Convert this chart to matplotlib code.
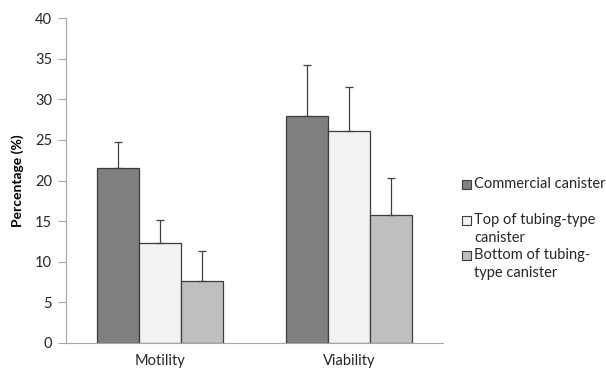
import numpy as np
import matplotlib
matplotlib.use("Agg")
import matplotlib.pyplot as plt
from matplotlib.patches import Rectangle

plt.rcParams['font.family'] = ['Lato', 'DejaVu Sans']

groups = ["Motility", "Viability"]
series = [["Commercial canister"], ["Top of tubing-type", "canister"], ["Bottom of tubing-", "type canister"]]
means = [[21.5, 28.0], [12.3, 26.1], [7.6, 15.7]]
errs = [[3.3, 6.2], [2.9, 5.4], [3.7, 4.6]]
colors = ["#808080", "#f2f2f2", "#bfbfbf"]
edge = "#3c3c3c"

fig = plt.figure(figsize=(6.06, 3.70), dpi=100)
ax = fig.add_axes([0.109, 0.073, 0.622, 0.878])

x = np.arange(len(groups))
w = 0.223
for i in range(3):
    ax.bar(x + (i - 1) * w, means[i], w, color=colors[i], edgecolor=edge, linewidth=0.9,
           yerr=[np.zeros(2), errs[i]], error_kw=dict(ecolor="#404040", elinewidth=0.9,
                                                     capsize=3, capthick=0.9), zorder=2)

ax.set_xlim(-0.5, 1.5)
ax.set_ylim(0, 40)
ax.set_yticks(range(0, 41, 5))
ax.set_xticks(x)
ax.set_xticklabels(groups)
ax.tick_params(axis='x', length=0, pad=8, labelsize=10.5, colors="#262626")
ax.tick_params(axis='y', length=6, width=0.8, color="#a6a6a6", pad=4, labelsize=10.5,
               labelcolor="#262626")
for s in ["top", "right"]:
    ax.spines[s].set_visible(False)
for s in ["left", "bottom"]:
    ax.spines[s].set_color("#a6a6a6")
    ax.spines[s].set_linewidth(0.8)
ax.set_ylabel("Percentage (%)", fontsize=10, fontweight="bold", labelpad=8)

# legend drawn by hand, Excel-style spacing
leg_y = [184, 220, 255]
line_h = 17.5
for i, lines in enumerate(series):
    yy = 1 - leg_y[i] / 370
    fig.patches.append(Rectangle((462 / 606, yy - 4.5 / 370), 9 / 606, 9 / 370,
                                 transform=fig.transFigure, facecolor=colors[i],
                                 edgecolor=edge, linewidth=0.8))
    for k, txt in enumerate(lines):
        fig.text(474 / 606, yy - k * line_h / 370, txt, ha="left", va="center",
                 fontsize=10.5, color="#262626")

fig.savefig("out.png", dpi=100)
